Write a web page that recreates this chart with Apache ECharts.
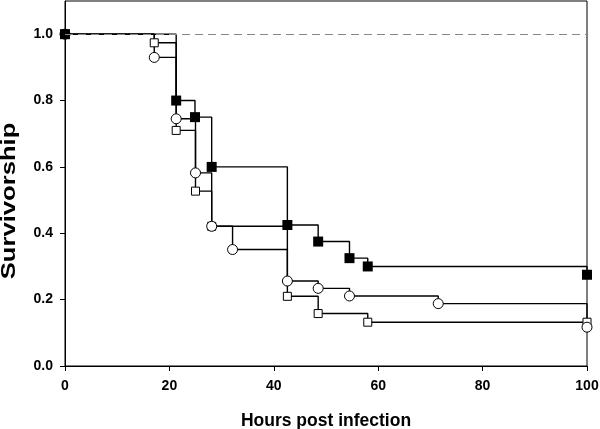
<!DOCTYPE html>
<html><head><meta charset="utf-8">
<script src="https://cdn.jsdelivr.net/npm/echarts@6/dist/echarts.min.js"></script>
<style>html,body{margin:0;padding:0;background:#fff}#c{width:600px;height:429px}</style>
</head><body><div id="c"></div>
<script>
// Filled squares
const filledTimes = [0, 21.3, 24.9, 28.1, 42.6, 48.5, 54.5, 58.0, 100];
const filledSurv  = [1.0, 0.8, 0.75, 0.6, 0.425, 0.375, 0.325, 0.3, 0.275];
// Open circles
const circleTimes = [0, 17.1, 21.3, 25.0, 28.1, 32.1, 42.6, 48.5, 54.5, 71.5, 100];
const circleSurv  = [1.0, 0.93, 0.745, 0.582, 0.421, 0.351, 0.256, 0.234, 0.211, 0.188, 0.117];
// Open squares
const squareTimes = [0, 17.1, 21.3, 25.0, 28.1, 42.6, 48.5, 58.0, 100];
const squareSurv  = [1.0, 0.974, 0.71, 0.527, 0.421, 0.21, 0.158, 0.132, 0.132];
const referenceLevel = 1.0;

const zip = (a, b) => a.map((v, i) => [v, b[i]]);
const font = 'Liberation Sans, Arial, sans-serif';
const chart = echarts.init(document.getElementById('c'), null, {renderer: 'canvas'});

function openSeries(name, times, surv, symbol, size) {
  return {
    name, type: 'line', step: 'end', data: zip(times, surv),
    symbol, symbolSize: size, showSymbol: true,
    showAllSymbol: true,
    itemStyle: {color: '#fff', borderColor: '#000', borderWidth: 1},
    lineStyle: {color: '#000', width: 1.4},
    z: 3
  };
}

chart.setOption({
  animation: false,
  grid: {left: 65, right: 13, top: 1, bottom: 63, containLabel: false, outerBoundsMode: 'none',
    show: true, borderColor: '#000', borderWidth: 1},
  graphic: [{
    type: 'text', x: 9, y: 201, rotation: Math.PI / 2, scaleX: 1.22,
    style: {text: 'Survivorship', fill: '#000', font: 'bold 21px ' + font,
      align: 'center', verticalAlign: 'middle'}
  }],
  xAxis: {
    type: 'value', min: 0, max: 100, interval: 20,
    axisLine: {show: true, onZero: false, lineStyle: {color: '#000', width: 1}},
    axisTick: {show: true, inside: false, length: 5, lineStyle: {color: '#000'}},
    splitLine: {show: false},
    axisLabel: {color: '#000', fontFamily: font, fontWeight: 'bold', fontSize: 14, margin: 13},
    name: 'Hours post infection', nameLocation: 'middle', nameGap: 46,
    nameTextStyle: {color: '#000', fontFamily: font, fontWeight: 'bold', fontSize: 17.5}
  },
  yAxis: {
    type: 'value', min: 0, max: 1.1, interval: 0.2,
    axisLine: {show: true, lineStyle: {color: '#000', width: 1}},
    axisTick: {show: true, inside: false, length: 5, lineStyle: {color: '#000'}},
    splitLine: {show: false},
    axisLabel: {color: '#000', fontFamily: font, fontWeight: 'bold', fontSize: 14, margin: 12,
      formatter: v => (v > 1.05 ? '' : v.toFixed(1)), showMaxLabel: false}
  },
  series: [
    {
      type: 'line', data: [], silent: true,
      markLine: {
        silent: true, symbol: 'none', label: {show: false},
        lineStyle: {color: '#888', type: [8, 5], width: 1.2},
        data: [{yAxis: referenceLevel}]
      }, z: 1
    },
    openSeries('squares', squareTimes, squareSurv, 'rect', 8),
    openSeries('circles', circleTimes, circleSurv, 'circle', 10),
    {
      name: 'filled', type: 'line', step: 'end', data: zip(filledTimes, filledSurv),
      symbol: 'rect', symbolSize: 10, showAllSymbol: true,
      itemStyle: {color: '#000'},
      lineStyle: {color: '#000', width: 1.4}, z: 4
    }
  ]
});
</script></body></html>
